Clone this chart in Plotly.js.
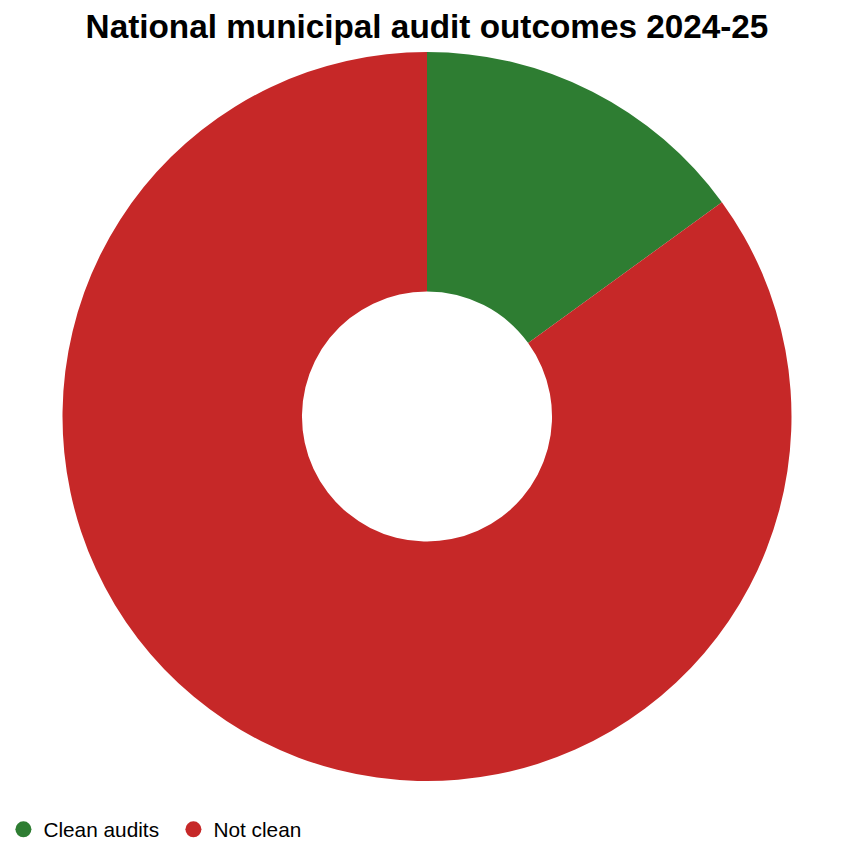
<!DOCTYPE html>
<html>
<head>
<meta charset="utf-8">
<script src="https://cdn.plot.ly/plotly-3.0.1.min.js"></script>
<style>
  html, body { margin: 0; padding: 0; background: #fff; }
  #chart { width: 854px; height: 852px; }
</style>
</head>
<body>
<div id="chart"></div>
<script>
"use strict";

// Audit outcome shares (%)
const outcomeLabels = ["Clean audits", "Not clean"];
const outcomeValues = [15, 85];
const outcomeColors = ["#2e7d32", "#c62828"];

const FONT = "'Liberation Sans', Arial, sans-serif";

// Donut itself; legend is drawn with circle markers from dummy traces below
const pie = {
  type: "pie",
  labels: outcomeLabels,
  values: outcomeValues,
  hole: 0.343,
  sort: false,
  direction: "clockwise",
  rotation: 0,
  textinfo: "none",
  marker: { colors: outcomeColors, line: { width: 0 } },
  showlegend: false,
  domain: { x: [0, 1], y: [0, 1] },
  hovertemplate: "<b>%{label}</b><br>%{value}%<extra></extra>",
};

const legendTraces = outcomeLabels.map((name, i) => ({
  type: "scatter",
  mode: "markers",
  name: name,
  x: [null],
  y: [null],
  marker: { color: outcomeColors[i], size: 20, symbol: "circle" },
  showlegend: true,
  hoverinfo: "skip",
}));

const layout = {
  width: 854,
  height: 852,
  paper_bgcolor: "#fff",
  plot_bgcolor: "rgba(0,0,0,0)",
  font: { family: FONT, size: 20, color: "#000" },
  margin: { t: 52, r: 0, b: 71, l: 0 },
  title: {
    text: "<b>National municipal audit outcomes 2024-25</b>",
    font: { family: FONT, size: 33.3, color: "#000" },
    x: 0.5,
    xanchor: "center",
    y: 0.969,
    yanchor: "middle",
  },
  xaxis: { visible: false },
  yaxis: { visible: false },
  showlegend: true,
  legend: {
    orientation: "h",
    x: 0.004,
    xanchor: "left",
    y: -0.067,
    yanchor: "middle",
    font: { family: FONT, size: 20.8, color: "#000" },
    itemsizing: "trace",
    entrywidth: 125,
    bgcolor: "rgba(0,0,0,0)",
  },
};

Plotly.newPlot("chart", [pie, ...legendTraces], layout, { displayModeBar: false });
</script>
</body>
</html>
